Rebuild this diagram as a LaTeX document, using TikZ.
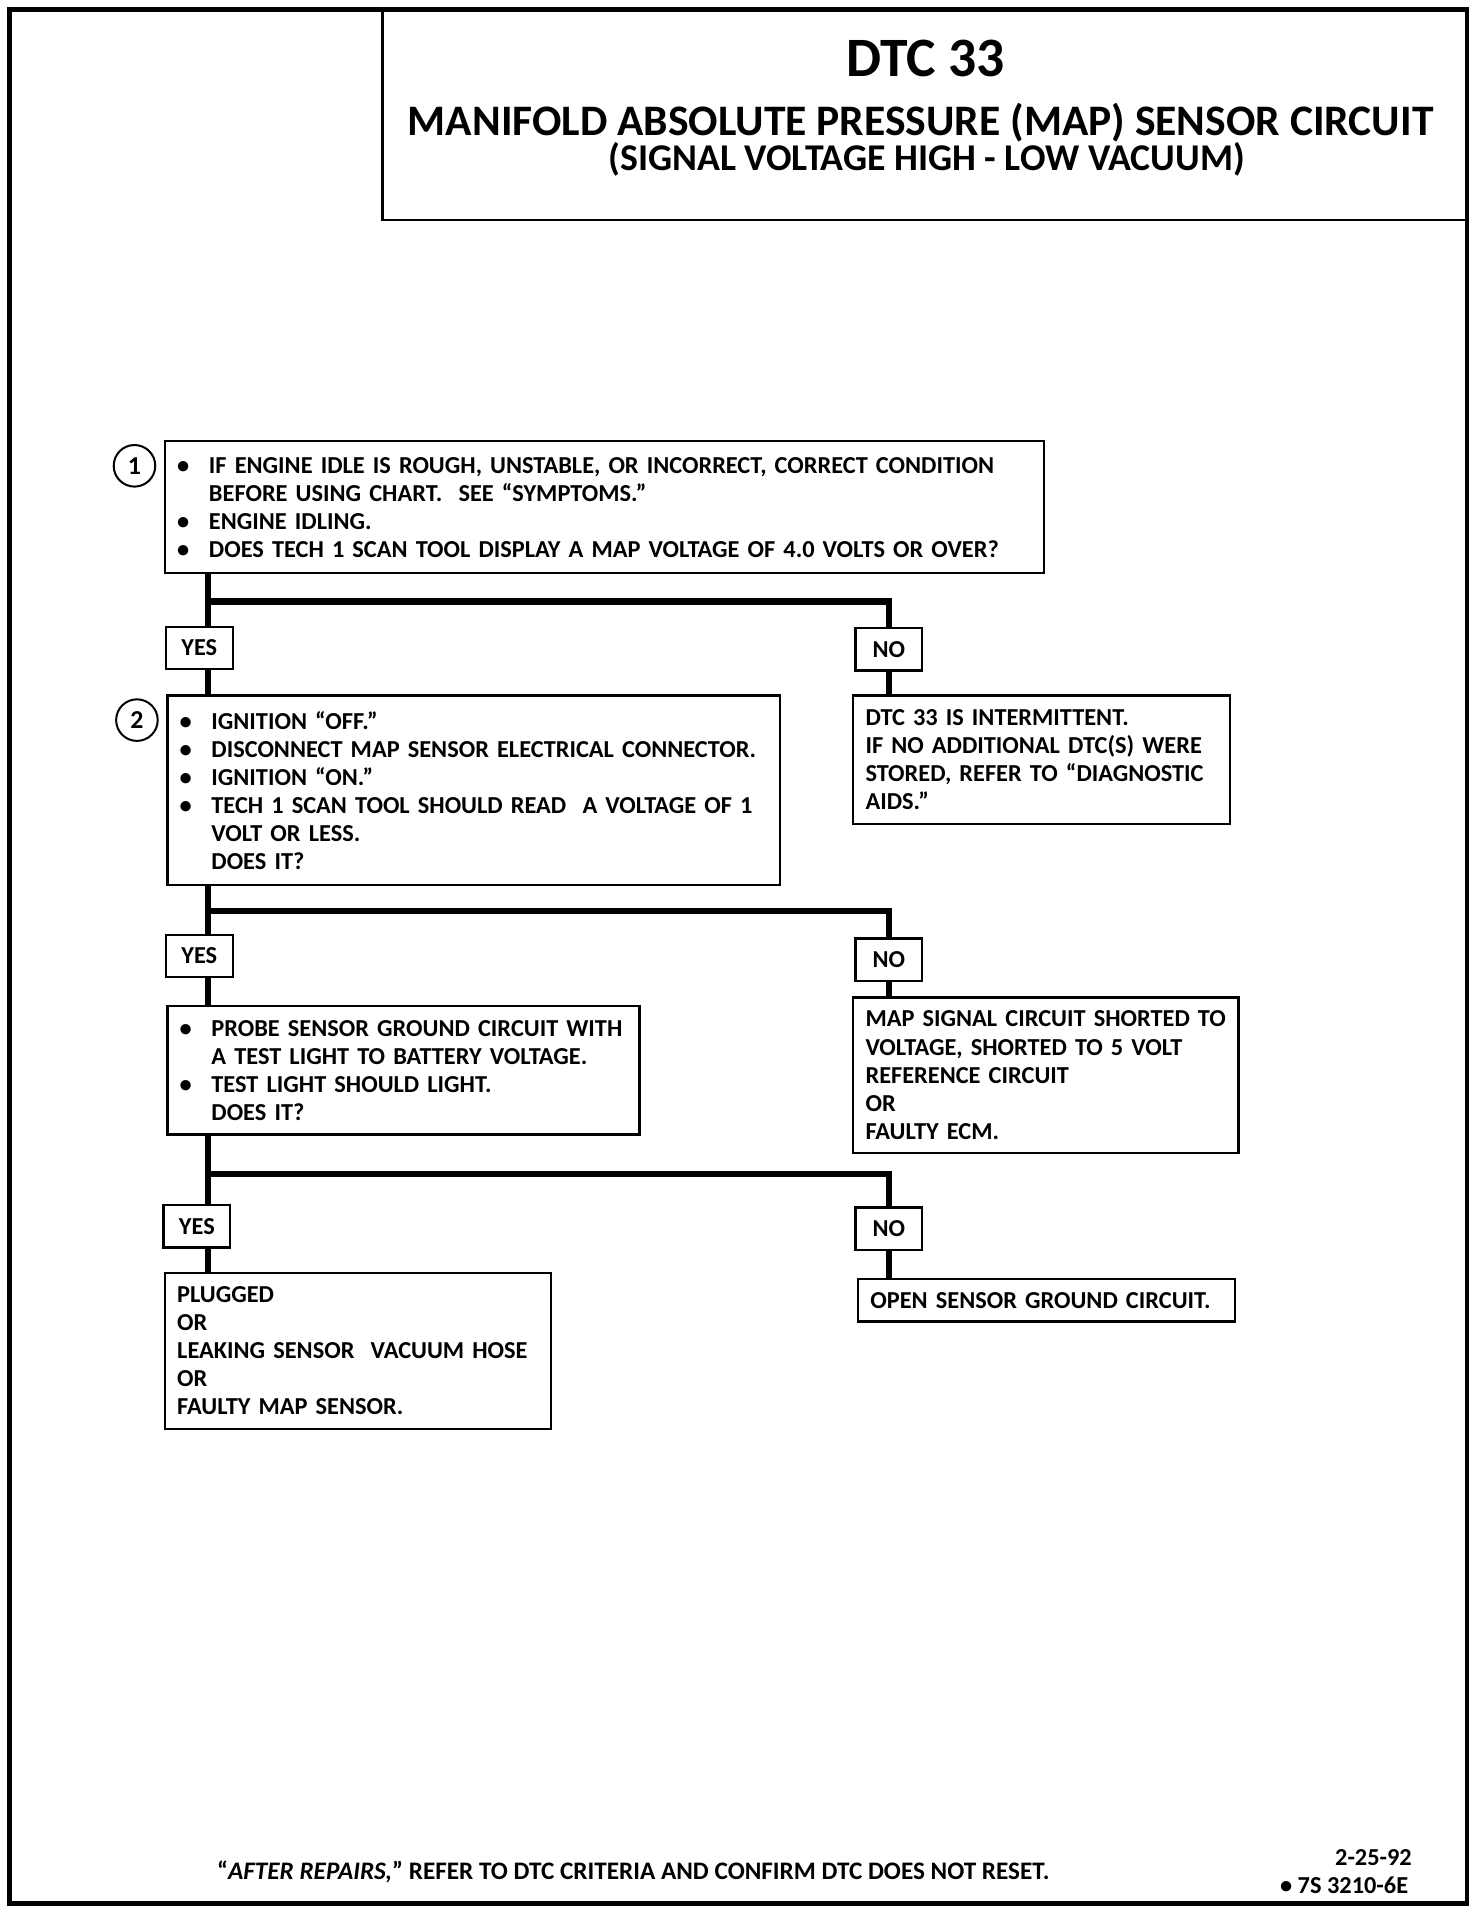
\documentclass[tikz,border=0pt]{standalone}
\usepackage{fontspec}
\setmainfont{Carlito}
\usetikzlibrary{positioning,calc}

\newcommand{\bul}{\makebox[3.9mm][l]{\textbullet}}
\newcommand{\ind}{\hspace*{3.9mm}}

\begin{document}
\begin{tikzpicture}[x=0.15mm, y=-0.15mm,
    stepbox/.style={draw, line width=0.8pt, anchor=north west, align=left,
        inner xsep=1.5mm, inner ysep=0pt, font=\fontsize{8.5}{9.8}\selectfont\bfseries},
    answer/.style={draw, line width=0.8pt, minimum width=8.2mm, minimum height=5.2mm,
        inner sep=0pt, font=\fontsize{8.5}{9.8}\selectfont\bfseries},
    stepno/.style={circle, draw, line width=0.7pt, minimum size=5.1mm, inner sep=0pt,
        font=\fontsize{9}{10}\selectfont\bfseries},
    flow/.style={line width=2.2pt}]

    \useasboundingbox (0,0) rectangle (1204,1560.6);

    % Frame and title block
    \draw[line width=1.6pt] (8,8) rectangle (1200,1557);
    \draw[line width=1pt] (313,8) -- (313,180) -- (1200,180);
    \node[font=\fontsize{19.4}{21}\selectfont\bfseries] (dtc) at (757,48) {DTC 33};
    \node[font=\fontsize{15.2}{16}\selectfont\bfseries] (title) at (753,100)
        {MANIFOLD ABSOLUTE PRESSURE (MAP) SENSOR CIRCUIT};
    \node[font=\fontsize{13.2}{14}\selectfont\bfseries] (subtitle) at (758,130)
        {(SIGNAL VOLTAGE HIGH - LOW VACUUM)};

    % Step 1
    \node[stepbox, text width=104.85mm, minimum height=16.2mm] (q1) at (134,360) {%
        \bul IF ENGINE IDLE IS ROUGH, UNSTABLE, OR INCORRECT, CORRECT CONDITION\\
        \ind BEFORE USING CHART.\ \ SEE ``SYMPTOMS.''\\
        \bul ENGINE IDLING.\\
        \bul DOES TECH 1 SCAN TOOL DISPLAY A MAP VOLTAGE OF 4.0 VOLTS OR OVER?};
    \node[stepno] (c1) at (110,381) {1};

    \node[answer] (y1) at (163,530) {YES};
    \node[answer] (n1) at (727,531) {NO};

    \node[stepbox, text width=43.2mm, minimum height=15.75mm] (r1) at (697,568) {%
        DTC 33 IS INTERMITTENT.\\
        IF NO ADDITIONAL DTC(S) WERE\\
        STORED, REFER TO ``DIAGNOSTIC\\
        AIDS.''};

    % Step 2
    \node[stepbox, text width=72.15mm, minimum height=23.25mm] (q2) at (136,568) {%
        \bul IGNITION ``OFF.''\\
        \bul DISCONNECT MAP SENSOR ELECTRICAL CONNECTOR.\\
        \bul IGNITION ``ON.''\\
        \bul TECH 1 SCAN TOOL SHOULD READ\ \ A VOLTAGE OF 1\\
        \ind VOLT OR LESS.\\
        \ind DOES IT?};
    \node[stepno] (c2) at (112,589) {2};

    \node[answer] (y2) at (163,782) {YES};
    \node[answer] (n2) at (727,785) {NO};

    \node[stepbox, text width=44.25mm, minimum height=19.05mm] (r2) at (697,815) {%
        MAP SIGNAL CIRCUIT SHORTED TO\\
        VOLTAGE, SHORTED TO 5 VOLT\\
        REFERENCE CIRCUIT\\
        OR\\
        FAULTY ECM.};

    % Step 3
    \node[stepbox, text width=54.9mm, minimum height=15.75mm] (q3) at (136,822) {%
        \bul PROBE SENSOR GROUND CIRCUIT WITH\\
        \ind A TEST LIGHT TO BATTERY VOLTAGE.\\
        \bul TEST LIGHT SHOULD LIGHT.\\
        \ind DOES IT?};

    \node[answer] (y3) at (161,1003) {YES};
    \node[answer] (n3) at (727,1005) {NO};

    \node[stepbox, text width=44.4mm, minimum height=19.2mm] (r3) at (134,1040) {%
        PLUGGED\\
        OR\\
        LEAKING SENSOR\ \ VACUUM HOSE\\
        OR\\
        FAULTY MAP SENSOR.};
    \node[stepbox, text width=43.2mm, minimum height=5.25mm] (r4) at (701,1045)
        {OPEN SENSOR GROUND CIRCUIT.};

    % Flow lines
    \coordinate (t1) at (170,492);
    \coordinate (t2) at (170,745);
    \coordinate (t3) at (170,960);

    \draw[flow] (q1.south -| t1) -- (t1) -| (n1.north);
    \draw[flow] (t1) -- (y1.north -| t1);
    \draw[flow] (y1.south -| t1) -- (q2.north -| t1);
    \draw[flow] (n1.south) -- (r1.north -| n1.south);

    \draw[flow] (q2.south -| t2) -- (t2) -| (n2.north);
    \draw[flow] (t2) -- (y2.north -| t2);
    \draw[flow] (y2.south -| t2) -- (q3.north -| t2);
    \draw[flow] (n2.south) -- (r2.north -| n2.south);

    \draw[flow] (q3.south -| t3) -- (t3) -| (n3.north);
    \draw[flow] (t3) -- (y3.north -| t3);
    \draw[flow] (y3.south -| t3) -- (r3.north -| t3);
    \draw[flow] (n3.south) -- (r4.north -| n3.south);

    % Footer
    \node[font=\fontsize{8.8}{10}\selectfont\bfseries] (note) at (518,1531)
        {``\textit{AFTER REPAIRS,}'' REFER TO DTC CRITERIA AND CONFIRM DTC DOES NOT RESET.};
    \node[anchor=east, font=\fontsize{8.5}{9.8}\selectfont\bfseries] (date) at (1163,1519) {2-25-92};
    \node[anchor=east, font=\fontsize{8.5}{9.8}\selectfont\bfseries] (code) at (1160,1542)
        {\textbullet\ 7S 3210-6E};
\end{tikzpicture}
\end{document}
